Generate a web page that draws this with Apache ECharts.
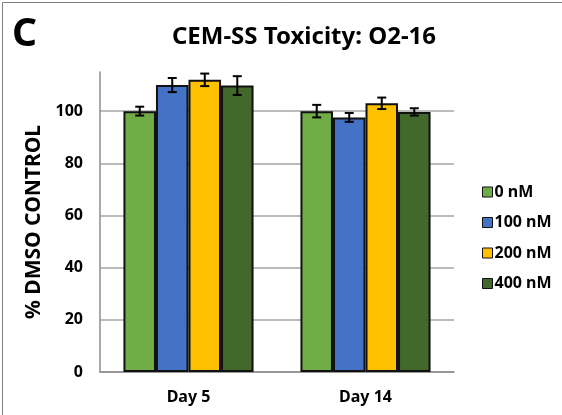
<!DOCTYPE html>
<html>
<head>
<meta charset="utf-8">
<script src="https://cdn.jsdelivr.net/npm/echarts@6/dist/echarts.min.js"></script>
<style>
  html, body { margin: 0; padding: 0; background: #fff; }
  #chart { width: 562px; height: 415px; }
</style>
</head>
<body>
<div id="chart"></div>
<script>
  const days = ['Day 5', 'Day 14'];
  const doses = ['0 nM', '100 nM', '200 nM', '400 nM'];
  const meanValues = [
    [100, 100],
    [110, 97.6],
    [112, 103],
    [109.8, 99.7]
  ];
  const errValues = [
    [1.7, 2.4],
    [2.7, 1.7],
    [2.4, 2.2],
    [3.6, 1.4]
  ];
  const yTicks = [0, 20, 40, 60, 80, 100];

  const colors = ['#70ad47', '#4472c4', '#ffc000', '#43682b'];
  const font = '"Noto Sans", sans-serif';
  const catGap = 0.265;

  const chart = echarts.init(document.getElementById('chart'));

  const barSeries = doses.map((name, i) => ({
    name: name,
    type: 'bar',
    data: meanValues[i],
    barGap: '0%',
    barCategoryGap: (catGap * 100) + '%',
    itemStyle: {
      color: colors[i],
      borderColor: '#111',
      borderWidth: 2
    },
    z: 2
  }));

  const errSeries = doses.map((name, i) => ({
    type: 'custom',
    name: name + ' err',
    data: meanValues[i].map((v, j) => [j, v, errValues[i][j]]),
    z: 5,
    silent: true,
    renderItem: function (params, api) {
      const cat = api.value(0);
      const mean = api.value(1);
      const err = api.value(2);
      const bandW = api.size([1, 0])[0];
      const barW = bandW * (1 - catGap) / doses.length;
      const center = api.coord([cat, mean]);
      const x = center[0] + (i - (doses.length - 1) / 2) * barW;
      const top = api.coord([cat, mean + err])[1];
      const bottom = api.coord([cat, mean - err])[1];
      const cap = 4.5;
      const style = { stroke: '#000', lineWidth: 2 };
      return {
        type: 'group',
        children: [
          { type: 'line', shape: { x1: x, y1: top, x2: x, y2: bottom }, style: style },
          { type: 'line', shape: { x1: x - cap, y1: top, x2: x + cap, y2: top }, style: style },
          { type: 'line', shape: { x1: x - cap, y1: bottom, x2: x + cap, y2: bottom }, style: style }
        ]
      };
    }
  }));

  const option = {
    animation: false,
    textStyle: { fontFamily: font },
    graphic: [
      {
        type: 'rect',
        shape: { x: 2.5, y: 2.5, width: 700, height: 700 },
        style: { fill: 'none', stroke: '#808080', lineWidth: 1 },
        silent: true
      },
      {
        type: 'text',
        left: 12,
        top: 15,
        style: { text: 'C', font: 'bold 39px ' + font, fill: '#000' }
      }
    ],
    title: {
      text: 'CEM-SS Toxicity: O2-16',
      left: 299,
      textAlign: 'center',
      top: 20,
      textStyle: { fontFamily: font, fontSize: 24, fontWeight: 'bold', color: '#000' }
    },
    legend: {
      data: doses,
      orient: 'vertical',
      left: 477,
      top: 179,
      itemWidth: 10,
      itemHeight: 10,
      itemGap: 14.5,
      icon: 'rect',
      itemStyle: { borderColor: '#111', borderWidth: 1 },
      textStyle: { fontFamily: font, fontSize: 16, fontWeight: 'bold', color: '#000', padding: [0, 0, 0, -3] }
    },
    grid: {
      left: 100,
      right: 108,
      top: 72,
      bottom: 43
    },
    xAxis: {
      type: 'category',
      data: days,
      axisLine: { lineStyle: { color: '#8c8c8c', width: 1.5 } },
      axisTick: { show: false },
      axisLabel: {
        color: '#000',
        fontFamily: font,
        fontSize: 16,
        fontWeight: 'bold',
        margin: 17
      }
    },
    yAxis: {
      type: 'value',
      min: yTicks[0],
      max: 115,
      interval: yTicks[1] - yTicks[0],
      name: '% DMSO CONTROL',
      nameLocation: 'middle',
      nameGap: 52,
      nameTextStyle: { color: '#000', fontFamily: font, fontSize: 21, fontWeight: 'bold' },
      axisLine: { show: true, lineStyle: { color: '#8c8c8c', width: 1.5 } },
      axisTick: { show: false },
      axisLabel: {
        color: '#000',
        fontFamily: font,
        fontSize: 16,
        fontWeight: 'bold',
        margin: 17,
        showMaxLabel: false,
        formatter: v => (yTicks.indexOf(v) >= 0 ? String(v) : '')
      },
      splitLine: {
        showMaxLine: false,
        lineStyle: { color: '#a6a6a6', width: 1.5 }
      }
    },
    series: barSeries.concat(errSeries)
  };

  chart.setOption(option);
</script>
</body>
</html>
